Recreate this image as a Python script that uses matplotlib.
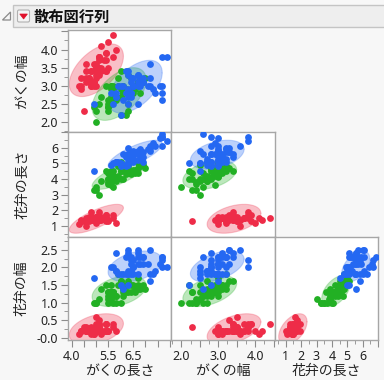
import numpy as np
import matplotlib
matplotlib.use("Agg")
import matplotlib.pyplot as plt
from matplotlib.patches import Rectangle, Polygon, FancyBboxPatch

plt.rcParams['font.family'] = ['Noto Sans CJK JP', 'DejaVu Sans']

# iris (JMP sample data) - sepal length / sepal width / petal length / petal width
setosa_sl = [5.1, 4.9, 4.7, 4.6, 5.0, 5.4, 4.6, 5.0, 4.4, 4.9, 5.4, 4.8, 4.8, 4.3, 5.8, 5.7, 5.4, 5.1, 5.7, 5.1,
             5.4, 5.1, 4.6, 5.1, 4.8, 5.0, 5.0, 5.2, 5.2, 4.7, 4.8, 5.4, 5.2, 5.5, 4.9, 5.0, 5.5, 4.9, 4.4, 5.1,
             5.0, 4.5, 4.4, 5.0, 5.1, 4.8, 5.1, 4.6, 5.3, 5.0]
setosa_sw = [3.5, 3.0, 3.2, 3.1, 3.6, 3.9, 3.4, 3.4, 2.9, 3.1, 3.7, 3.4, 3.0, 3.0, 4.0, 4.4, 3.9, 3.5, 3.8, 3.8,
             3.4, 3.7, 3.6, 3.3, 3.4, 3.0, 3.4, 3.5, 3.4, 3.2, 3.1, 3.4, 4.1, 4.2, 3.1, 3.2, 3.5, 3.6, 3.0, 3.4,
             3.5, 2.3, 3.2, 3.5, 3.8, 3.0, 3.8, 3.2, 3.7, 3.3]
setosa_pl = [1.4, 1.4, 1.3, 1.5, 1.4, 1.7, 1.4, 1.5, 1.4, 1.5, 1.5, 1.6, 1.4, 1.1, 1.2, 1.5, 1.3, 1.4, 1.7, 1.5,
             1.7, 1.5, 1.0, 1.7, 1.9, 1.6, 1.6, 1.5, 1.4, 1.6, 1.6, 1.5, 1.5, 1.4, 1.5, 1.2, 1.3, 1.4, 1.3, 1.5,
             1.3, 1.3, 1.3, 1.6, 1.9, 1.4, 1.6, 1.4, 1.5, 1.4]
setosa_pw = [0.2, 0.2, 0.2, 0.2, 0.2, 0.4, 0.3, 0.2, 0.2, 0.1, 0.2, 0.2, 0.1, 0.1, 0.2, 0.4, 0.4, 0.3, 0.3, 0.3,
             0.2, 0.4, 0.2, 0.5, 0.2, 0.2, 0.4, 0.2, 0.2, 0.2, 0.2, 0.4, 0.1, 0.2, 0.2, 0.2, 0.2, 0.1, 0.2, 0.2,
             0.3, 0.3, 0.2, 0.6, 0.4, 0.3, 0.2, 0.2, 0.2, 0.2]

versicolor_sl = [7.0, 6.4, 6.9, 5.5, 6.5, 5.7, 6.3, 4.9, 6.6, 5.2, 5.0, 5.9, 6.0, 6.1, 5.6, 6.7, 5.6, 5.8, 6.2, 5.6,
                 5.9, 6.1, 6.3, 6.1, 6.4, 6.6, 6.8, 6.7, 6.0, 5.7, 5.5, 5.5, 5.8, 6.0, 5.4, 6.0, 6.7, 6.3, 5.6, 5.5,
                 5.5, 6.1, 5.8, 5.0, 5.6, 5.7, 5.7, 6.2, 5.1, 5.7]
versicolor_sw = [3.2, 3.2, 3.1, 2.3, 2.8, 2.8, 3.3, 2.4, 2.9, 2.7, 2.0, 3.0, 2.2, 2.9, 2.9, 3.1, 3.0, 2.7, 2.2, 2.5,
                 3.2, 2.8, 2.5, 2.8, 2.9, 3.0, 2.8, 3.0, 2.9, 2.6, 2.4, 2.4, 2.7, 2.7, 3.0, 3.4, 3.1, 2.3, 3.0, 2.5,
                 2.6, 3.0, 2.6, 2.3, 2.7, 3.0, 2.9, 2.9, 2.5, 2.8]
versicolor_pl = [4.7, 4.5, 4.9, 4.0, 4.6, 4.5, 4.7, 3.3, 4.6, 3.9, 3.5, 4.2, 4.0, 4.7, 3.6, 4.4, 4.5, 4.1, 4.5, 3.9,
                 4.8, 4.0, 4.9, 4.7, 4.3, 4.4, 4.8, 5.0, 4.5, 3.5, 3.8, 3.7, 3.9, 5.1, 4.5, 4.5, 4.7, 4.4, 4.1, 4.0,
                 4.4, 4.6, 4.0, 3.3, 4.2, 4.2, 4.2, 4.3, 3.0, 4.1]
versicolor_pw = [1.4, 1.5, 1.5, 1.3, 1.5, 1.3, 1.6, 1.0, 1.3, 1.4, 1.0, 1.5, 1.0, 1.4, 1.3, 1.4, 1.5, 1.0, 1.5, 1.1,
                 1.8, 1.3, 1.5, 1.2, 1.3, 1.4, 1.4, 1.7, 1.5, 1.0, 1.1, 1.0, 1.2, 1.6, 1.5, 1.6, 1.5, 1.3, 1.3, 1.3,
                 1.2, 1.4, 1.2, 1.0, 1.3, 1.2, 1.3, 1.3, 1.1, 1.3]

virginica_sl = [6.3, 5.8, 7.1, 6.3, 6.5, 7.6, 4.9, 7.3, 6.7, 7.2, 6.5, 6.4, 6.8, 5.7, 5.8, 6.4, 6.5, 7.7, 7.7, 6.0,
                6.9, 5.6, 7.7, 6.3, 6.7, 7.2, 6.2, 6.1, 6.4, 7.2, 7.4, 7.9, 6.4, 6.3, 6.1, 7.7, 6.3, 6.4, 6.0, 6.9,
                6.7, 6.9, 5.8, 6.8, 6.7, 6.7, 6.3, 6.5, 6.2, 5.9]
virginica_sw = [3.3, 2.7, 3.0, 2.9, 3.0, 3.0, 2.5, 2.9, 2.5, 3.6, 3.2, 2.7, 3.0, 2.5, 2.8, 3.2, 3.0, 3.8, 2.6, 2.2,
                3.2, 2.8, 2.8, 2.7, 3.3, 3.2, 2.8, 3.0, 2.8, 3.0, 2.8, 3.8, 2.8, 2.8, 2.6, 3.0, 3.4, 3.1, 3.0, 3.1,
                3.1, 3.1, 2.7, 3.2, 3.3, 3.0, 2.5, 3.0, 3.4, 3.0]
virginica_pl = [6.0, 5.1, 5.9, 5.6, 5.8, 6.6, 4.5, 6.3, 5.8, 6.1, 5.1, 5.3, 5.5, 5.0, 5.1, 5.3, 5.5, 6.7, 6.9, 5.0,
                5.7, 4.9, 6.7, 4.9, 5.7, 6.0, 4.8, 4.9, 5.6, 5.8, 6.1, 6.4, 5.6, 5.1, 5.6, 6.1, 5.6, 5.5, 4.8, 5.4,
                5.6, 5.1, 5.1, 5.9, 5.7, 5.2, 5.0, 5.2, 5.4, 5.1]
virginica_pw = [2.5, 1.9, 2.1, 1.8, 2.2, 2.1, 1.7, 1.8, 1.8, 2.5, 2.0, 1.9, 2.1, 2.0, 2.4, 2.3, 1.8, 2.2, 2.3, 1.5,
                2.3, 2.0, 2.0, 1.8, 2.1, 1.8, 1.8, 1.8, 2.1, 1.6, 1.9, 2.0, 2.2, 1.5, 1.4, 2.3, 2.4, 1.8, 1.8, 2.1,
                2.4, 2.3, 1.9, 2.3, 2.5, 2.3, 1.9, 2.0, 2.3, 1.8]

var_names = ["がくの長さ", "がくの幅", "花弁の長さ", "花弁の幅"]
colors = ["#ee2c48", "#22b024", "#2468f2"]

columns = [
    [setosa_sl, versicolor_sl, virginica_sl],
    [setosa_sw, versicolor_sw, virginica_sw],
    [setosa_pl, versicolor_pl, virginica_pl],
    [setosa_pw, versicolor_pw, virginica_pw],
]

# axis settings per variable: limits, major step, minor step, shown labels
limits = [(3.85, 8.05), (1.72, 4.54), (0.3, 7.0), (-0.06, 2.86)]
x_major = [0.5, 0.5, 1.0, 0.5]
x_minor = [None, 0.25, 0.5, 0.25]
y_major = [0.5, 0.5, 1.0, 0.5]
y_minor = [None, 0.25, 0.5, 0.25]
x_labels = [[4.0, 5.5, 6.5], [2.0, 3.0, 4.0], [1, 2, 3, 4, 5, 6], None]
y_labels = [None, [2.0, 2.5, 3.0, 3.5, 4.0], [1, 2, 3, 4, 5, 6], [0.0, 0.5, 1.0, 1.5, 2.0, 2.5]]
x_fmt = ["{:.1f}", "{:.1f}", "{:.0f}", "{:.1f}"]
y_fmt = ["{:.1f}", "{:.1f}", "{:.0f}", "{:.1f}"]

coverage = 0.90

W, H = 384, 380
x_edges = [68, 171, 275, 378]
y_edges = [30, 132, 237, 340]


def px_box(x0, y0, x1, y1):
    return [x0 / W, 1 - y1 / H, (x1 - x0) / W, (y1 - y0) / H]


def pooled_cov(xs, ys):
    S = np.zeros((2, 2))
    dof = 0
    for x, y in zip(xs, ys):
        S += np.cov(np.vstack([x, y])) * (len(x) - 1)
        dof += len(x) - 1
    return S / dof


def ticks(lo, hi, step):
    start = np.ceil(lo / step) * step
    return np.arange(start, hi + 1e-9, step)


fig = plt.figure(figsize=(W / 100, H / 100), dpi=100)
fig.patch.set_facecolor("#f7f7f7")

tick_font = dict(family=["Noto Sans", "DejaVu Sans"], size=9, color="#222222")
c = -2 * np.log(1 - coverage)
t = np.linspace(0, 2 * np.pi, 200)

for r in range(1, 4):
    for col in range(r):
        ax = fig.add_axes(px_box(x_edges[col], y_edges[r - 1], x_edges[col + 1], y_edges[r]))
        ax.set_facecolor("white")
        xs, ys = columns[col], columns[r]
        S = pooled_cov(xs, ys)
        L = np.linalg.cholesky(S)
        for k in range(3):
            m = np.array([np.mean(xs[k]), np.mean(ys[k])])
            pts = m[:, None] + np.sqrt(c) * L @ np.vstack([np.cos(t), np.sin(t)])
            ax.fill(pts[0], pts[1], facecolor=colors[k], alpha=0.3, edgecolor="none", zorder=1)
            ax.plot(pts[0], pts[1], color=colors[k], alpha=0.25, lw=0.8, zorder=1)
        for k in range(3):
            ax.scatter(xs[k], ys[k], s=24, color=colors[k], linewidths=0, zorder=3)
        ax.set_xlim(limits[col])
        ax.set_ylim(limits[r])
        for sp in ax.spines.values():
            sp.set_color("#a6a6a6")
            sp.set_linewidth(1.0)

        # x ticks on bottom row
        if r == 3:
            mj = ticks(*limits[col], x_major[col])
            ax.set_xticks(mj)
            ax.set_xticklabels([x_fmt[col].format(v) if any(abs(v - l) < 1e-6 for l in x_labels[col]) else ""
                                for v in mj], fontdict=tick_font)
            if x_minor[col]:
                ax.set_xticks(ticks(*limits[col], x_minor[col]), minor=True)
            ax.tick_params(axis="x", which="major", length=5, color="#8c8c8c", pad=2)
            ax.tick_params(axis="x", which="minor", length=3, color="#8c8c8c")
            ax.set_xlabel(var_names[col], fontsize=10, color="#222222", labelpad=1)
        else:
            ax.set_xticks([])
        # y ticks on first column
        if col == 0:
            mj = ticks(*limits[r], y_major[r])
            ax.set_yticks(mj)
            ax.set_yticklabels([y_fmt[r].format(v) if any(abs(v - l) < 1e-6 for l in y_labels[r]) else ""
                                for v in mj], fontdict=tick_font)
            if y_minor[r]:
                ax.set_yticks(ticks(*limits[r], y_minor[r]), minor=True)
            ax.tick_params(axis="y", which="major", length=5, color="#8c8c8c", pad=2)
            ax.tick_params(axis="y", which="minor", length=3, color="#8c8c8c")
        else:
            ax.set_yticks([])

# y axis titles
for r in range(1, 4):
    yc = (y_edges[r - 1] + y_edges[r]) / 2
    fig.text(22 / W, 1 - yc / H, var_names[r], rotation=90, ha="center", va="center",
             fontsize=10, color="#222222")

# title bar
fig.add_artist(Rectangle((13 / W, 1 - 27 / H), (W - 12) / W, 22 / H, transform=fig.transFigure,
                         facecolor="#eeeeee", edgecolor="#c4c4c4", lw=1))
fig.add_artist(Polygon([(10.5 / W, 1 - 12 / H), (10.5 / W, 1 - 20 / H), (2.5 / W, 1 - 20 / H)],
                       closed=True, transform=fig.transFigure, facecolor="none", edgecolor="#8a8a8a", lw=0.9))
fig.add_artist(FancyBboxPatch((17.5 / W, 1 - 22 / H), 12 / W, 12 / H, boxstyle="round,pad=0,rounding_size=0.004",
                              transform=fig.transFigure, facecolor="#f4f4f4", edgecolor="#b0b0b0", lw=0.8))
fig.add_artist(Polygon([(19.8 / W, 1 - 14 / H), (27.4 / W, 1 - 14 / H), (23.6 / W, 1 - 19 / H)],
                       closed=True, transform=fig.transFigure, facecolor="#e0102a", edgecolor="#e0102a", lw=0.5))
fig.text(34 / W, 1 - 16.5 / H, "散布図行列", ha="left", va="center", fontsize=11, fontweight="bold",
         color="#111111")

fig.savefig("out.png", dpi=100, facecolor=fig.get_facecolor())
